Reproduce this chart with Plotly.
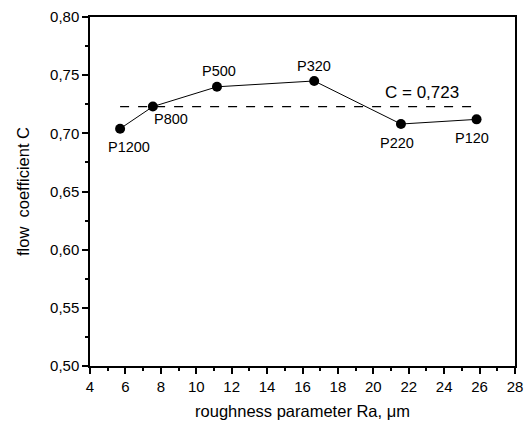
import plotly.graph_objects as go

ra = [5.70, 7.55, 11.17, 16.66, 21.56, 25.83]
coef = [0.704, 0.723, 0.740, 0.745, 0.708, 0.712]
grit = ["P1200", "P800", "P500", "P320", "P220", "P120"]
mean_c = 0.723
mean_x = [5.7, 25.7]
label_dx = [0.52, 1.05, 0.13, 0.0, -0.2, -0.26]
label_dy = [-0.0161, -0.0108, 0.0134, 0.013, -0.0161, -0.0158]

fig = go.Figure()
fig.add_trace(go.Scatter(x=mean_x, y=[mean_c, mean_c], mode="lines",
                         line=dict(color="black", width=1.3, dash="dash"), showlegend=False))
fig.add_trace(go.Scatter(x=ra, y=coef, mode="lines+markers",
                         line=dict(color="black", width=1),
                         marker=dict(color="black", size=10), showlegend=False))
for x, y, t, dx, dy in zip(ra, coef, grit, label_dx, label_dy):
    fig.add_annotation(x=x + dx, y=y + dy, text=t, showarrow=False,
                       font=dict(size=14.5, color="black"))
fig.add_annotation(x=22.75, y=0.7355, text="C = 0,723", showarrow=False,
                   font=dict(size=17, color="black"))

axis_common = dict(showline=True, linecolor="black", linewidth=1.5, mirror=True,
                   ticks="outside", tickcolor="black", tickwidth=1.5, ticklen=6,
                   showgrid=False, zeroline=False,
                   tickfont=dict(size=15, color="black"))
fig.update_xaxes(range=[4, 28], tick0=4, dtick=2,
                 minor=dict(ticks="outside", dtick=1, ticklen=3, tickcolor="black", tickwidth=1.5),
                 title=dict(text="roughness parameter Ra, μm", font=dict(size=16.5, color="black"), standoff=12),
                 **axis_common)
fig.update_yaxes(range=[0.50, 0.80], tick0=0.5, dtick=0.05, tickformat=".2f",
                 minor=dict(ticks="outside", dtick=0.025, ticklen=3, tickcolor="black", tickwidth=1.5),
                 title=dict(text="flow\u00a0 coefficient C", font=dict(size=16.5, color="black"), standoff=16),
                 **axis_common)
fig.update_layout(width=530, height=425, margin=dict(l=90, r=7, t=17, b=59),
                  plot_bgcolor="white", paper_bgcolor="white", separators=", ",
                  font=dict(family="Liberation Sans, Arial, sans-serif", color="black"))
fig.write_html("out.html")
